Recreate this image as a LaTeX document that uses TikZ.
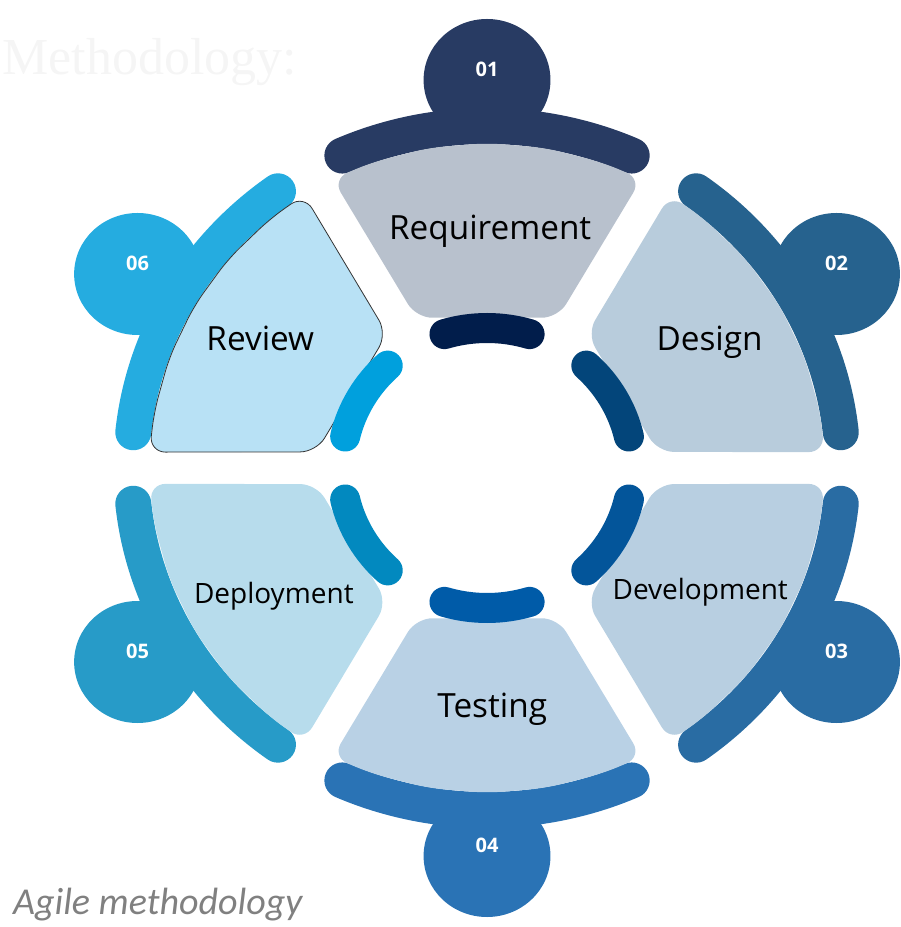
\documentclass[tikz,border=0pt]{standalone}
\usepackage{fontspec}
\setmainfont{Open Sans}
\newfontfamily\captionfont{Carlito}
\newfontfamily\titlefont{Liberation Serif}
\usepackage{xcolor}
\usepackage{tikz}
\definecolor{reqband}{HTML}{283B63}
\definecolor{reqarc}{HTML}{011D4B}
\definecolor{reqfill}{HTML}{B8C1CD}
\definecolor{desband}{HTML}{26628E}
\definecolor{desarc}{HTML}{03457A}
\definecolor{desfill}{HTML}{B8CCDC}
\definecolor{devband}{HTML}{296CA3}
\definecolor{devarc}{HTML}{03559A}
\definecolor{devfill}{HTML}{B8CFE1}
\definecolor{tesband}{HTML}{2A73B5}
\definecolor{tesarc}{HTML}{005BA8}
\definecolor{tesfill}{HTML}{B9D1E5}
\definecolor{depband}{HTML}{279BC8}
\definecolor{deparc}{HTML}{0289BF}
\definecolor{depfill}{HTML}{B7DCEC}
\definecolor{revband}{HTML}{25ACE0}
\definecolor{revarc}{HTML}{00A0DD}
\definecolor{revfill}{HTML}{B8E1F5}
\tikzstyle{band}=[line width=27pt, line cap=round]
\tikzstyle{innerarc}=[line width=22.5pt, line cap=round]
\tikzstyle{number}=[text=white, font=\bfseries\fontsize{15pt}{18pt}\selectfont]
\tikzstyle{phase}=[anchor=base, text=black, font=\fontsize{25pt}{30pt}\selectfont]
\tikzstyle{phasesmall}=[phase, font=\fontsize{21pt}{25pt}\selectfont]
% one stage: angle, band colour, arc colour, shape options, number
\newcommand{\stage}[5]{
\draw[band, #2] ({#1+24}:342) arc[start angle={#1+24}, end angle={#1-24}, radius=342];
\fill[#2] (#1:388) circle[radius=61];
\node (num#5) [number, yshift=8pt] at (#1:388) {#5};
\path[#4, rounded corners=12pt] ({#1+27.2}:325) -- ({#1+24.4}:165) -- ({#1-24.4}:165)
  -- ({#1-27.2}:325) -- ({#1-20}:325) -- ({#1-10}:325) -- (#1:325) -- ({#1+10}:325)
  -- ({#1+20}:325) -- cycle;
\draw[innerarc, #3] ({#1+17}:140) arc[start angle={#1+17}, end angle={#1-17}, radius=140];
}

\begin{document}
\begin{tikzpicture}[x={(0.78pt,0)}, y={(0,0.75pt)}]
\useasboundingbox (-468.3,-459) rectangle (397.1,468);

\node (title) [anchor=base west, inner sep=0, text=black!4,
  font=\titlefont\fontsize{39pt}{46pt}\selectfont] at (-466,393) {Methodology:};

\stage{90}{reqband}{reqarc}{fill=reqfill}{01}
\stage{30}{desband}{desarc}{fill=desfill}{02}
\stage{-30}{devband}{devarc}{fill=devfill}{03}
\stage{-90}{tesband}{tesarc}{fill=tesfill}{04}
\stage{-150}{depband}{deparc}{fill=depfill}{05}
\stage{150}{revband}{revarc}{fill=revfill, draw=black!80, line width=0.6pt}{06}

\node (requirement) [phase] at (3,228) {Requirement};
\node (design) [phase] at (214,117) {Design};
\node (development) [phasesmall] at (205,-131) {Development};
\node (testing) [phase] at (5,-249) {Testing};
\node (deployment) [phasesmall] at (-205,-135) {Deployment};
\node (review) [phase] at (-218,117) {Review};

\node (caption) [anchor=base west, inner sep=0, text=black!50,
  font=\captionfont\itshape\fontsize{28.5pt}{33pt}\selectfont] at (-456,-446) {Agile methodology};

\end{tikzpicture}
\end{document}
